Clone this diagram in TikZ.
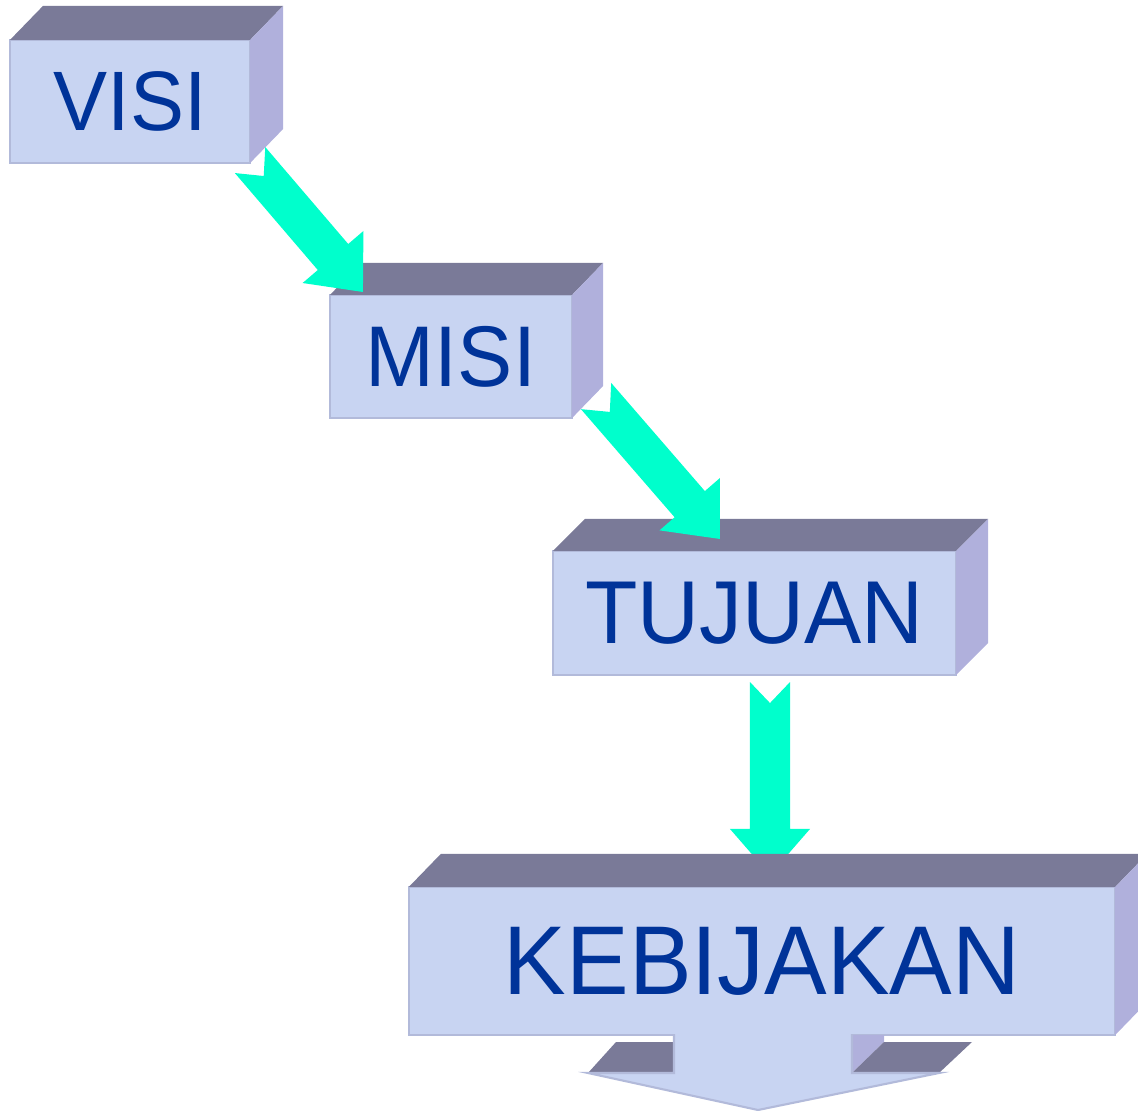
\documentclass[tikz,border=0pt]{standalone}
\usepackage{fontspec}
\setmainfont{Liberation Sans}[FakeStretch=0.96]
\usetikzlibrary{calc}
\pgfdeclarelayer{back}
\pgfsetlayers{back,main}

\definecolor{frontfill}{RGB}{200,212,242}
\definecolor{topfill}{RGB}{122,122,152}
\definecolor{sidefill}{RGB}{176,176,220}
\definecolor{edgeline}{RGB}{178,186,218}
\definecolor{textblue}{RGB}{0,51,153}
\definecolor{arrowgreen}{RGB}{0,255,204}

\tikzset{
  blok/.style={draw=edgeline, line width=0.6pt, fill=frontfill, text=textblue,
    inner sep=0pt, outer sep=0pt},
  topface/.style={fill=topfill},
  sideface/.style={fill=sidefill},
  fatarrow/.style={fill=arrowgreen},
}

\newcommand\arrw{0.2cm}
\newcommand\arrh{0.4cm}
\newcommand\arrl{0.46cm}
\newcommand\arrn{0.21cm}

\newcommand\boxsides[2]{%
  \fill[topface] (#1.north west) -- ++(#2) -- ($(#1.north east)+(#2)$) -- (#1.north east) -- cycle;
  \fill[sideface] (#1.north east) -- ++(#2) -- ($(#1.south east)+(#2)$) -- (#1.south east) -- cycle;
}

\newcommand\fatarrow[2]{%
  \coordinate (#1e) at ($(#2)!\arrl!(#1)$);
  \fill[fatarrow] ($(#1)!\arrw!90:(#2)$) -- ($(#1)!\arrn!(#2)$) -- ($(#1)!\arrw!-90:(#2)$)
    -- ($(#1e)!\arrw!-90:(#2)$) -- ($(#1e)!\arrh!-90:(#2)$) -- (#2)
    -- ($(#1e)!\arrh!90:(#2)$) -- ($(#1e)!\arrw!90:(#2)$) -- cycle;
}

\begin{document}
\begin{tikzpicture}[x=0.01cm, y=-0.01cm]
    \useasboundingbox (0,0) rectangle (1138,1111);
    \clip (0,0) rectangle (1138,1111);

    \node[blok, minimum width=2.4cm, minimum height=1.23cm, font=\fontsize{24}{28}\selectfont]
      (visi) at (130,101.5) {VISI};
    \boxsides{visi}{33,-34}

    \node[blok, minimum width=2.42cm, minimum height=1.23cm, font=\fontsize{24.5}{28}\selectfont]
      (misi) at (451,356.5) {MISI};
    \boxsides{misi}{31,-32}

    \node[blok, minimum width=4.03cm, minimum height=1.24cm, font=\fontsize{25.4}{30}\selectfont]
      (tujuan) at (754.5,613) {TUJUAN};
    \boxsides{tujuan}{32,-32}

    \node[blok, minimum width=7.06cm, minimum height=1.48cm, font=\fontsize{27.8}{32}\selectfont]
      (kebijakan) at (762,961) {KEBIJAKAN};
    \boxsides{kebijakan}{32,-33}

    \fill[sideface] (852,1035) -- (884,1035) -- (884,1042) -- (852,1073) -- cycle;
    \fill[topface] (588,1073) -- (674,1073) -- (674,1042) -- (616,1042) -- cycle;
    \fill[topface] (852,1073) -- (939,1073) -- (972,1042) -- (884,1042) -- cycle;
    \filldraw[fill=frontfill, draw=edgeline, line width=0.6pt]
      (674,1034) -- (674,1073) -- (588,1073) -- (758,1110) -- (939,1073) -- (852,1073) -- (852,1034);

    \coordinate (a1s) at ($(visi.south east)+(0,-3)$);
    \coordinate (a1t) at ($(misi.north west)+(33,-3)$);
    \fatarrow{a1s}{a1t}

    \coordinate (a2s) at ($(misi.south east)+(24,-22)$);
    \coordinate (a2t) at ($(tujuan.north west)+(167,-12)$);
    \fatarrow{a2s}{a2t}

    \begin{pgfonlayer}{back}
      \coordinate (a3s) at ($(tujuan.south)+(15.5,7)$);
      \coordinate (a3t) at ($(kebijakan.north)+(8,-12)$);
      \fatarrow{a3s}{a3t}
    \end{pgfonlayer}

\end{tikzpicture}
\end{document}
